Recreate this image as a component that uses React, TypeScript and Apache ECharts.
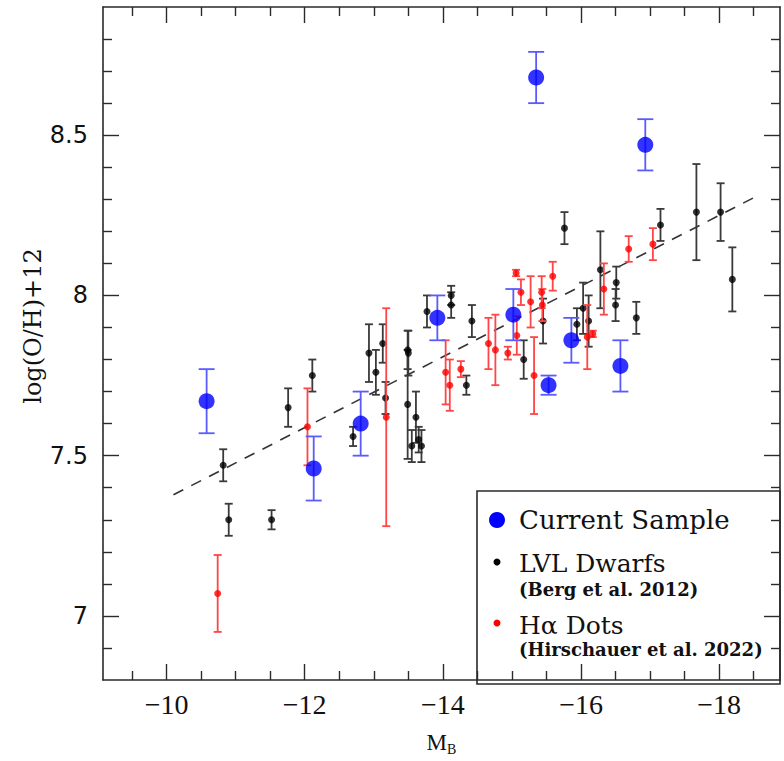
import React, { useEffect, useRef } from "react";
import * as echarts from "echarts";

// Current Sample (blue)
const currentM = [-10.58, -12.13, -12.81, -13.92, -15.02, -15.35, -15.53, -15.86, -16.57, -16.93];
const currentOH = [7.67, 7.46, 7.6, 7.93, 7.94, 8.68, 7.72, 7.86, 7.78, 8.47];
const currentErr = [0.1, 0.1, 0.1, 0.07, 0.08, 0.08, 0.03, 0.07, 0.08, 0.08];

// LVL Dwarfs (Berg et al. 2012) (black)
const lvlM = [
  -10.82, -10.9, -11.52, -11.76, -12.11, -12.7, -12.93, -13.03, -13.13, -13.17,
  -13.49, -13.5, -13.49, -13.61, -13.55, -13.65, -13.69, -13.77, -14.12, -14.12,
  -14.34, -14.42, -15.17, -15.45, -15.76, -15.94, -16.03, -16.11, -16.28, -16.51,
  -16.5, -16.8, -17.15, -17.67, -18.02, -18.19,
];
const lvlOH = [
  7.47, 7.3, 7.3, 7.65, 7.75, 7.56, 7.82, 7.76, 7.85, 7.68,
  7.83, 7.82, 7.66, 7.62, 7.53, 7.55, 7.53, 7.95, 8.0, 7.97,
  7.72, 7.92, 7.8, 7.92, 8.21, 7.91, 7.96, 7.92, 8.08, 8.04,
  7.97, 7.93, 8.22, 8.26, 8.26, 8.05,
];
const lvlErr = [
  0.05, 0.05, 0.03, 0.06, 0.05, 0.03, 0.09, 0.07, 0.06, 0.05,
  0.06, 0.07, 0.17, 0.08, 0.05, 0.04, 0.05, 0.05, 0.03, 0.04,
  0.03, 0.05, 0.06, 0.07, 0.05, 0.05, 0.08, 0.08, 0.12, 0.05,
  0.05, 0.05, 0.05, 0.15, 0.09, 0.1,
];

// Hα Dots (Hirschauer et al. 2022) (red)
const hadM = [
  -10.74, -12.04, -13.18, -14.04, -14.1, -14.26, -14.66, -14.76, -14.94, -15.06,
  -15.07, -15.13, -15.27, -15.43, -15.44, -15.59, -15.32, -16.09, -16.17, -16.33,
  -16.69, -17.04,
];
const hadOH = [
  7.07, 7.59, 7.62, 7.76, 7.72, 7.77, 7.85, 7.83, 7.82, 8.07,
  7.875, 8.01, 7.98, 8.01, 7.97, 8.06, 7.75, 7.87, 7.88, 8.02,
  8.145, 8.16,
];
const hadErr = [
  0.12, 0.12, 0.34, 0.1, 0.08, 0.025, 0.08, 0.11, 0.02, 0.01,
  0.06, 0.04, 0.08, 0.05, 0.05, 0.045, 0.12, 0.1, 0.01, 0.08,
  0.04, 0.05,
];

// Dashed relation
const trendM = [-10.1, -18.5];
const trendOH = [7.378, 8.305];

// Axes
const xMin = -18.88;
const xMax = -9.08;
const yMin = 6.8;
const yMax = 8.9;
const xMajorTicks = [-18, -16, -14, -12, -10];
const xMinorTicks = [-18.5, -17.5, -17, -16.5, -15.5, -15, -14.5, -13.5, -13, -12.5, -11.5, -11, -10.5, -9.5];
const yMajorTicks = [7, 7.5, 8, 8.5];
const yMinorTicks = [6.9, 7.1, 7.2, 7.3, 7.4, 7.6, 7.7, 7.8, 7.9, 8.1, 8.2, 8.3, 8.4, 8.6, 8.7, 8.8];

const AXIS_COLOR = "#2a2a2a";

function zip3(a: number[], b: number[], c: number[]) {
  return a.map((v, i) => [v, b[i], c[i]]);
}

function errorBars(data: number[][], color: string, capHalf: number, lw: number, z: number) {
  return {
    type: "custom",
    xAxisIndex: 0,
    yAxisIndex: 0,
    data,
    encode: { x: 0, y: 1 },
    silent: true,
    z,
    renderItem: (_params: any, api: any) => {
      const x = api.value(0);
      const y = api.value(1);
      const e = api.value(2);
      const hi = api.coord([x, y + e]);
      const lo = api.coord([x, y - e]);
      const style = { stroke: color, lineWidth: lw };
      return {
        type: "group",
        children: [
          { type: "line", shape: { x1: hi[0], y1: hi[1], x2: lo[0], y2: lo[1] }, style },
          { type: "line", shape: { x1: hi[0] - capHalf, y1: hi[1], x2: hi[0] + capHalf, y2: hi[1] }, style },
          { type: "line", shape: { x1: lo[0] - capHalf, y1: lo[1], x2: lo[0] + capHalf, y2: lo[1] }, style },
        ],
      };
    },
  };
}

function xAxisDef(position: "top" | "bottom", ticks: number[], len: number, showLine: boolean, showLabel: boolean, withName: boolean) {
  return {
    type: "value",
    gridIndex: 0,
    position,
    min: xMin,
    max: xMax,
    inverse: true,
    splitLine: { show: false },
    axisLine: { show: showLine, onZero: false, lineStyle: { color: AXIS_COLOR, width: 1.6 } },
    axisTick: { show: true, inside: true, length: len, customValues: ticks, lineStyle: { color: AXIS_COLOR, width: 1.4 } },
    axisLabel: {
      show: showLabel,
      customValues: xMajorTicks,
      margin: 10,
      color: "#111",
      fontFamily: "Liberation Serif",
      fontSize: 28,
      formatter: (v: number) => (v < 0 ? "\u2212" + Math.abs(v) : String(v)),
    },
    name: withName ? "{m|M}{s|B}" : "",
    nameLocation: "middle",
    nameGap: 48,
    nameTextStyle: {
      rich: {
        m: { fontFamily: "Liberation Serif", fontSize: 23, color: "#111", lineHeight: 28, verticalAlign: "middle" },
        s: { fontFamily: "Liberation Serif", fontSize: 14, color: "#111", lineHeight: 28, verticalAlign: "bottom", padding: [14, 0, 0, 0] },
      },
    },
  };
}

function yAxisDef(position: "left" | "right", ticks: number[], len: number, showLine: boolean, showLabel: boolean) {
  return {
    type: "value",
    gridIndex: 0,
    position,
    min: yMin,
    max: yMax,
    splitLine: { show: false },
    axisLine: { show: showLine, onZero: false, lineStyle: { color: AXIS_COLOR, width: 1.6 } },
    axisTick: { show: true, inside: true, length: len, customValues: ticks, lineStyle: { color: AXIS_COLOR, width: 1.4 } },
    axisLabel: {
      show: showLabel,
      customValues: yMajorTicks,
      margin: 15,
      color: "#111",
      fontFamily: "DejaVu Sans",
      fontSize: 24,
      formatter: (v: number) => String(v),
    },
  };
}

const legendFont = "DejaVu Serif";

export default function App() {
  const ref = useRef<HTMLDivElement>(null);
  useEffect(() => {
    const chart = echarts.init(ref.current!, null, { renderer: "svg" });
    const option: any = {
      animation: false,
      backgroundColor: "#ffffff",
      grid: { left: 103, top: 7, width: 677, height: 677, containLabel: false },
      xAxis: [
        xAxisDef("bottom", xMajorTicks, 16, true, true, true),
        xAxisDef("bottom", xMinorTicks, 9, false, false, false),
        xAxisDef("top", xMajorTicks, 16, true, false, false),
        xAxisDef("top", xMinorTicks, 9, false, false, false),
      ],
      yAxis: [
        yAxisDef("left", yMajorTicks, 16, true, true),
        yAxisDef("left", yMinorTicks, 9, false, false),
        yAxisDef("right", yMajorTicks, 16, true, false),
        yAxisDef("right", yMinorTicks, 9, false, false),
      ],
      series: [
        {
          type: "line",
          xAxisIndex: 0,
          yAxisIndex: 0,
          data: trendM.map((m, i) => [m, trendOH[i]]),
          symbol: "none",
          lineStyle: { color: "#333", width: 1.6, type: [11, 9] },
          z: 1,
        },
        errorBars(zip3(lvlM, lvlOH, lvlErr), "#3a3a3a", 4, 1.8, 2),
        {
          type: "scatter",
          xAxisIndex: 0,
          yAxisIndex: 0,
          data: lvlM.map((m, i) => [m, lvlOH[i]]),
          symbol: "circle",
          symbolSize: 7,
          itemStyle: { color: "#000" },
          z: 3,
        },
        errorBars(zip3(hadM, hadOH, hadErr), "#ff4545", 4, 1.8, 4),
        {
          type: "scatter",
          xAxisIndex: 0,
          yAxisIndex: 0,
          data: hadM.map((m, i) => [m, hadOH[i]]),
          symbol: "circle",
          symbolSize: 7,
          itemStyle: { color: "#ff0000" },
          z: 5,
        },
        errorBars(zip3(currentM, currentOH, currentErr), "#5a5aff", 8, 1.8, 6),
        {
          type: "scatter",
          xAxisIndex: 0,
          yAxisIndex: 0,
          data: currentM.map((m, i) => [m, currentOH[i]]),
          symbol: "circle",
          symbolSize: 16,
          itemStyle: { color: "#0000ff" },
          z: 7,
        },
      ],
      graphic: [
        {
          type: "text",
          x: 33,
          y: 326,
          rotation: Math.PI / 2,
          style: {
            text: "log(O/H)+12",
            font: '24px "DejaVu Serif"',
            fill: "#111",
            align: "center",
            verticalAlign: "middle",
          },
          z: 11,
        },
        {
          type: "rect",
          shape: { x: 477, y: 491, width: 303, height: 193 },
          style: { fill: "none", stroke: AXIS_COLOR, lineWidth: 1.6 },
          z: 10,
        },
        { type: "circle", shape: { cx: 497, cy: 520, r: 8 }, style: { fill: "#0000ff" }, z: 11 },
        {
          type: "text",
          x: 519,
          y: 520,
          style: { text: "Current Sample", font: `26px "${legendFont}"`, fill: "#111", verticalAlign: "middle" },
          z: 11,
        },
        { type: "circle", shape: { cx: 497, cy: 562, r: 3.5 }, style: { fill: "#000" }, z: 11 },
        {
          type: "text",
          x: 519,
          y: 563,
          style: { text: "LVL Dwarfs", font: `25px "${legendFont}"`, fill: "#111", verticalAlign: "middle" },
          z: 11,
        },
        {
          type: "text",
          x: 519,
          y: 589,
          style: { text: "(Berg et al. 2012)", font: `bold 18px "${legendFont}"`, fill: "#111", verticalAlign: "middle" },
          z: 11,
        },
        { type: "circle", shape: { cx: 497, cy: 623, r: 3.5 }, style: { fill: "#ff0000" }, z: 11 },
        {
          type: "text",
          x: 519,
          y: 625,
          style: { text: "H\u03b1 Dots", font: `25px "${legendFont}"`, fill: "#111", verticalAlign: "middle" },
          z: 11,
        },
        {
          type: "text",
          x: 519,
          y: 649,
          style: { text: "(Hirschauer et al. 2022)", font: `bold 18px "${legendFont}"`, fill: "#111", verticalAlign: "middle" },
          z: 11,
        },
      ],
    };
    chart.setOption(option);
    return () => chart.dispose();
  }, []);
  return (
    <div
      ref={ref}
      style={{ position: "fixed", left: 0, top: 0, width: 784, height: 761, background: "#fff" }}
    />
  );
}
